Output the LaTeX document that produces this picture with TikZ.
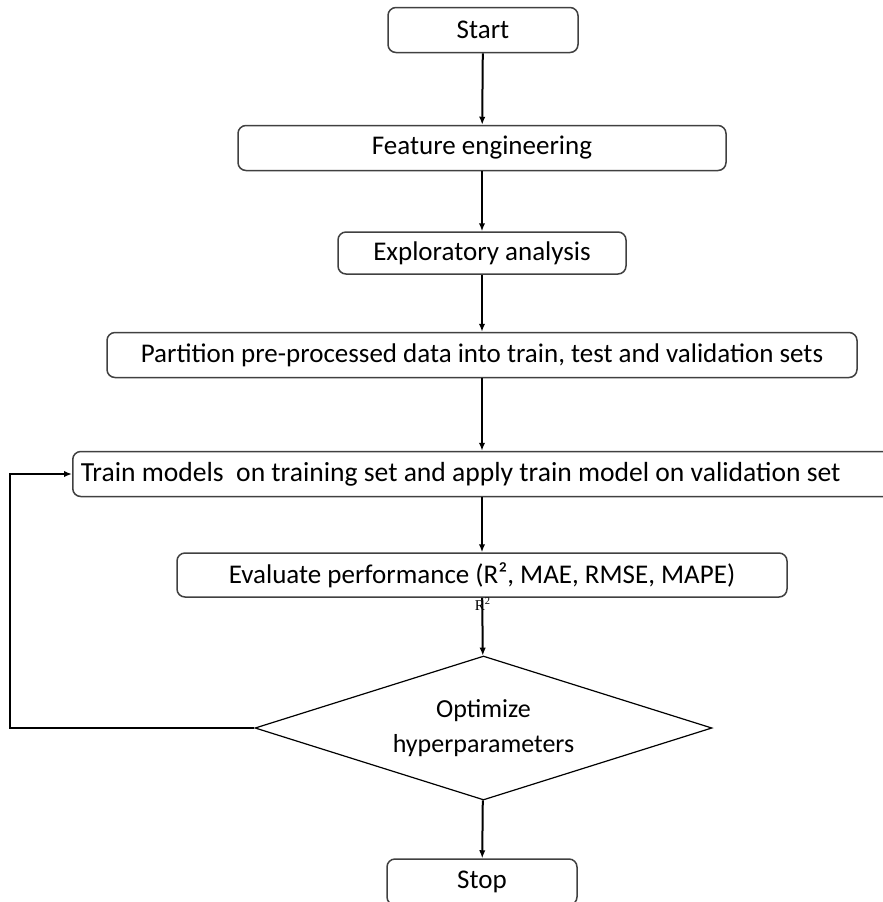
\documentclass[tikz,border=0pt]{standalone}
\usepackage{fontspec}
\setmainfont{Carlito}
\newfontfamily\labelserif{Liberation Serif}
\usetikzlibrary{arrows.meta}
\usetikzlibrary{shapes.geometric}
\definecolor{box-gray}{gray}{0.25}
\tikzstyle{stepbox}=[draw=box-gray,line width=0.75pt,rounded corners=4pt,minimum height=22.5pt,inner sep=0pt,font=\fontsize{13.5}{16}\selectfont]
\tikzstyle{decision}=[diamond,draw=black,line width=0.6pt,minimum width=228.5pt,minimum height=72pt,inner sep=0pt,aspect=3.2,align=center,font=\fontsize{13}{16}\selectfont]
\tikzstyle{flow}=[line width=1pt,-{Latex[length=4pt,width=3.2pt]}]

\begin{document}
\begin{tikzpicture}[x=0.5pt,y=-0.5pt]
\useasboundingbox (0,0) rectangle (883,902);
% process boxes, top to bottom
\node[stepbox,minimum width=95pt] (start) at (483,30) {Start};
\node[stepbox,minimum width=244pt] (feature) at (482,148) {Feature engineering};
\node[stepbox,minimum width=144pt,minimum height=21pt] (explore) at (482,253) {Exploratory analysis};
\node[stepbox,minimum width=375pt] (partition) at (482,355) {Partition pre-processed data into train, test and validation sets};
% this one runs off the right edge
\node[stepbox,anchor=west,inner xsep=4pt,text width=404pt,align=flush left,font=\fontsize{13.8}{16}\selectfont] (train) at (72,474) {Train models\ \ on training set and apply train model on validation set};
\node[stepbox,minimum width=305pt,minimum height=22pt] (evaluate) at (482,575) {Evaluate performance (R², MAE, RMSE, MAPE)};
% stray label under the evaluation box
\node[font=\labelserif\fontsize{7.5}{9}\selectfont,inner sep=0pt] (rsq) at (483,604) {R\textsuperscript{2}};
% decision
\node[decision] (optimize) at (483.5,728) {Optimize\\[1.5pt]hyperparameters};
\node[stepbox,minimum width=95pt,minimum height=23pt] (stop) at (482,882) {Stop};
% connectors
\draw[flow] (start) -- (feature);
\draw[flow] (feature) -- (explore);
\draw[flow] (explore) -- (partition);
\draw[flow] (partition) -- (train.north -| partition.south);
\draw[flow] (train.south -| evaluate.north) -- (evaluate);
\draw[flow] (evaluate) -- (optimize);
\draw[flow] (optimize) -- (stop);
% feedback loop
\coordinate (back) at (10,728);
\draw[flow] (optimize.west) -- (back) |- (train.west);
\end{tikzpicture}
\end{document}
